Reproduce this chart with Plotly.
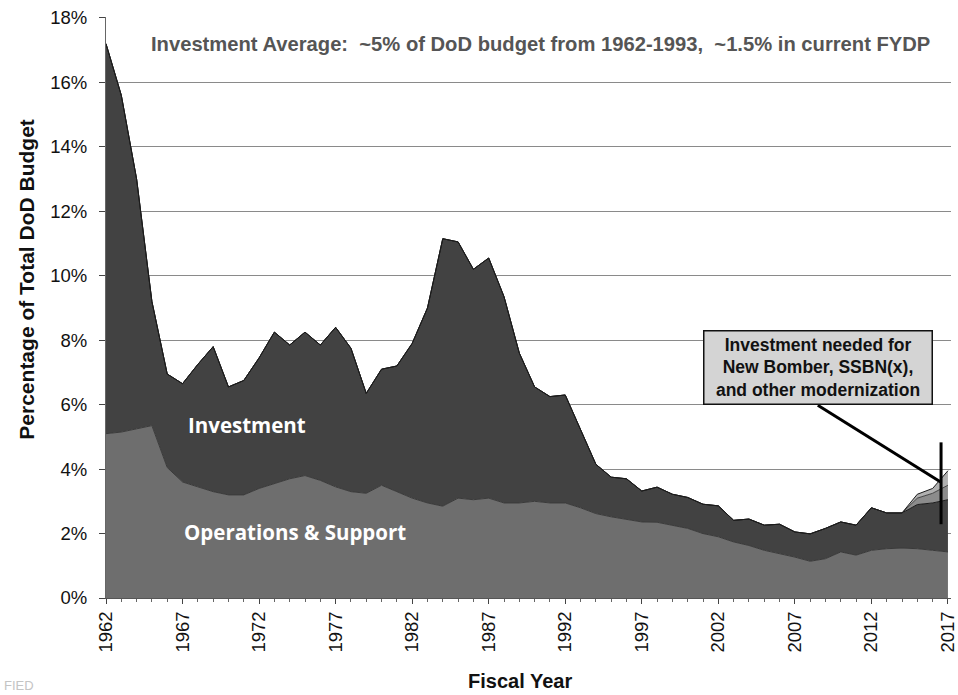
import plotly.graph_objects as go

years = list(range(1962, 2018))

ops_support = [5.10, 5.15, 5.25, 5.35, 4.05, 3.60, 3.45, 3.30, 3.20, 3.20,
               3.40, 3.55, 3.70, 3.80, 3.65, 3.45, 3.30, 3.25, 3.50, 3.30,
               3.10, 2.95, 2.85, 3.10, 3.05, 3.10, 2.95, 2.95, 3.00, 2.95,
               2.95, 2.80, 2.62, 2.52, 2.45, 2.36, 2.35, 2.26, 2.16, 2.00,
               1.90, 1.74, 1.63, 1.48, 1.38, 1.27, 1.14, 1.22, 1.43, 1.33,
               1.48, 1.53, 1.55, 1.53, 1.48, 1.43]

investment = [12.10, 10.45, 7.75, 3.85, 2.90, 3.05, 3.80, 4.50, 3.35, 3.55,
              4.05, 4.70, 4.15, 4.45, 4.20, 4.95, 4.45, 3.10, 3.60, 3.90,
              4.80, 6.05, 8.30, 7.95, 7.15, 7.45, 6.40, 4.65, 3.55, 3.30,
              3.35, 2.40, 1.53, 1.23, 1.25, 0.96, 1.09, 0.96, 0.96, 0.91,
              0.96, 0.67, 0.82, 0.78, 0.91, 0.78, 0.85, 0.94, 0.93, 0.93,
              1.32, 1.11, 1.09, 1.37, 1.47, 1.62]

needed_a = [0.0] * 53 + [0.20, 0.30, 0.45]
needed_b = [0.0] * 53 + [0.12, 0.15, 0.45]

y_ticks = [0, 2, 4, 6, 8, 10, 12, 14, 16, 18]
y_tick_labels = [f"{v}%" for v in y_ticks]
x_ticks = list(range(1962, 2018, 5))
x_tick_labels = [str(v) for v in x_ticks]

title_note = "Investment Average:  ~5% of DoD budget from 1962-1993,  ~1.5% in current FYDP"
box_note = "Investment needed for<br>New Bomber, SSBN(x),<br>and other modernization"

# plot area spans page x 106..958, y 17..598
PW, PH = 852, 581

fig = go.Figure()
fig.add_trace(go.Scatter(x=years, y=ops_support, stackgroup="one", mode="lines",
                         line=dict(color="#3a3a3a", width=1), fillcolor="#6e6e6e",
                         name="Operations & Support"))
fig.add_trace(go.Scatter(x=years, y=investment, stackgroup="one", mode="lines",
                         line=dict(color="#1a1a1a", width=1), fillcolor="#424242",
                         name="Investment"))
fig.add_trace(go.Scatter(x=years, y=needed_a, stackgroup="one", mode="lines",
                         line=dict(color="#2a2a2a", width=0.8), fillcolor="#8c8c8c",
                         name="Needed A"))
fig.add_trace(go.Scatter(x=years, y=needed_b, stackgroup="one", mode="lines",
                         line=dict(color="#1a1a1a", width=1), fillcolor="#b0b0b0",
                         name="Needed B"))

# callout line and marker bar
fig.add_shape(type="line", x0=2008.5, y0=5.98, x1=2016.55, y1=3.59,
              line=dict(color="black", width=3))
fig.add_shape(type="line", x0=2016.55, y0=4.83, x1=2016.55, y1=2.29,
              line=dict(color="black", width=3))

fig.add_annotation(x=2008.5, y=7.15, xref="x", yref="y", text=f"<b>{box_note}</b>",
                   showarrow=False, font=dict(family="Liberation Sans, Arial", size=17.5, color="#111"),
                   bgcolor="#d4d4d4", bordercolor="#111", borderwidth=1.5, borderpad=3,
                   width=221, align="center")

fig.add_annotation(x=(544 - 106) / PW, y=17.2, xref="paper", yref="y", xanchor="center",
                   text=f"<b>{title_note}</b>", showarrow=False,
                   font=dict(family="Liberation Sans, Arial", size=20.2, color="#555555"))

fig.add_annotation(x=1971.2, y=5.36, xref="x", yref="y", text="<b>Investment</b>",
                   showarrow=False, font=dict(family="Open Sans", size=20.5, color="white"))
fig.add_annotation(x=1974.35, y=2.05, xref="x", yref="y", text="<b>Operations &amp; Support</b>",
                   showarrow=False, font=dict(family="Open Sans", size=20.5, color="white"))

fig.add_annotation(x=(523 - 106) / PW, y=(598 - 681) / PH, xref="paper", yref="paper",
                   text="<b>Fiscal Year</b>", showarrow=False, xanchor="center", yanchor="middle",
                   font=dict(family="Liberation Sans, Arial", size=20, color="#111"))
fig.add_annotation(x=(25 - 106) / PW, y=(598 - 280) / PH, xref="paper", yref="paper",
                   text="<b>Percentage of Total DoD Budget</b>", showarrow=False, textangle=-90,
                   xanchor="center", yanchor="middle",
                   font=dict(family="Liberation Sans, Arial", size=21, color="#111"))
fig.add_annotation(x=(1 - 106) / PW, y=(598 - 685) / PH, xref="paper", yref="paper",
                   text="FIED", showarrow=False, xanchor="left", yanchor="middle",
                   font=dict(family="Liberation Sans, Arial", size=13, color="#c4c4c4"))

fig.update_layout(
    width=958, height=695,
    margin=dict(l=106, r=0, t=17, b=97, pad=0),
    paper_bgcolor="white", plot_bgcolor="white",
    showlegend=False,
    font=dict(family="Liberation Sans, Arial", size=18.5, color="#111"),
)
fig.update_xaxes(range=[1962, 2017.2], tickmode="array", tickvals=x_ticks, ticktext=x_tick_labels,
                 tickangle=-90, ticks="outside", ticklen=5, tickcolor="#444",
                 ticklabeloverflow="allow",
                 showline=True, linecolor="#555", linewidth=1, showgrid=False, zeroline=False,
                 minor=dict(dtick=1, ticks="outside", ticklen=3, tickcolor="#666", showgrid=False),
                 tickfont=dict(size=18.5))
fig.update_yaxes(range=[0, 18.03], tickmode="array", tickvals=y_ticks, ticktext=y_tick_labels,
                 ticks="outside", ticklen=6, tickcolor="#444", ticklabelstandoff=8,
                 ticklabeloverflow="allow",
                 showline=True, linecolor="#666", linewidth=1,
                 showgrid=True, gridcolor="#8a8a8a", gridwidth=1, zeroline=False,
                 tickfont=dict(size=18.5), layer="below traces")

fig.write_html("out.html", config={"displayModeBar": False},
               post_script="document.body.style.margin='0';document.body.style.overflow='hidden';")
